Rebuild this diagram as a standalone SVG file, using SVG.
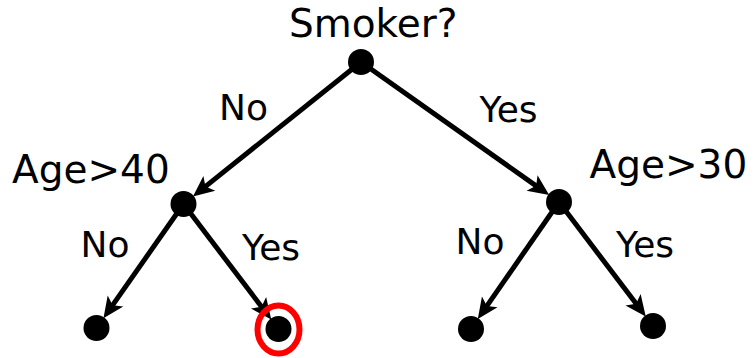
<svg xmlns="http://www.w3.org/2000/svg" width="754" height="358" viewBox="0 0 754 358">
  <style>
    .node { fill: #000; }
    .edge { stroke: #000; stroke-width: 5; fill: none; marker-end: url(#head); }
    .q { font-family: "DejaVu Sans", sans-serif; font-size: 39px; fill: #000; }
    .lbl { font-family: "DejaVu Sans", sans-serif; font-size: 36px; fill: #000; }
    .mark { fill: none; stroke: #ff0000; stroke-width: 6; }
  </style>
  <defs>
    <marker id="head" markerUnits="userSpaceOnUse" viewBox="-10 -12 26 24" refX="0" refY="0" markerWidth="26" markerHeight="24" orient="auto" overflow="visible">
      <path d="M13,0 L-8,-9.5 L-3,0 L-8,9.5 Z" fill="#000"/>
    </marker>
  </defs>

  <g id="edges">
    <line class="edge" x1="361" y1="62" x2="203.1" y2="188.4"/>
    <line class="edge" x1="361" y1="62" x2="538.6" y2="187.6"/>
    <line class="edge" x1="183.5" y1="204" x2="110.9" y2="307.6"/>
    <line class="edge" x1="183.5" y1="204" x2="263.4" y2="309.2"/>
    <line class="edge" x1="559" y1="202" x2="485.2" y2="308.4"/>
    <line class="edge" x1="559" y1="202" x2="637.9" y2="306.1"/>
  </g>

  <g id="edge-labels">
    <text class="lbl" x="219" y="119.5">No</text>
    <text class="lbl" x="479.5" y="121.7">Yes</text>
    <text class="lbl" x="80.5" y="257">No</text>
    <text class="lbl" x="242" y="260">Yes</text>
    <text class="lbl" x="455.5" y="254">No</text>
    <text class="lbl" x="616" y="257">Yes</text>
  </g>

  <g id="root">
    <circle class="node" cx="361" cy="62" r="13"/>
    <text class="q" x="289" y="36.5">Smoker?</text>
  </g>
  <g id="age40">
    <circle class="node" cx="183.5" cy="204" r="13"/>
    <text class="q" x="12" y="182.5">Age&gt;40</text>
  </g>
  <g id="age30">
    <circle class="node" cx="559" cy="202" r="13"/>
    <text class="q" x="589.5" y="178.3">Age&gt;30</text>
  </g>
  <g id="leaf1">
    <circle class="node" cx="96.5" cy="328" r="13"/>
  </g>
  <g id="leaf2">
    <circle class="node" cx="278.5" cy="329" r="13"/>
    <ellipse class="mark" cx="278.5" cy="329.5" rx="21" ry="24"/>
  </g>
  <g id="leaf3">
    <circle class="node" cx="471" cy="329" r="13"/>
  </g>
  <g id="leaf4">
    <circle class="node" cx="653" cy="326" r="13"/>
  </g>
</svg>
